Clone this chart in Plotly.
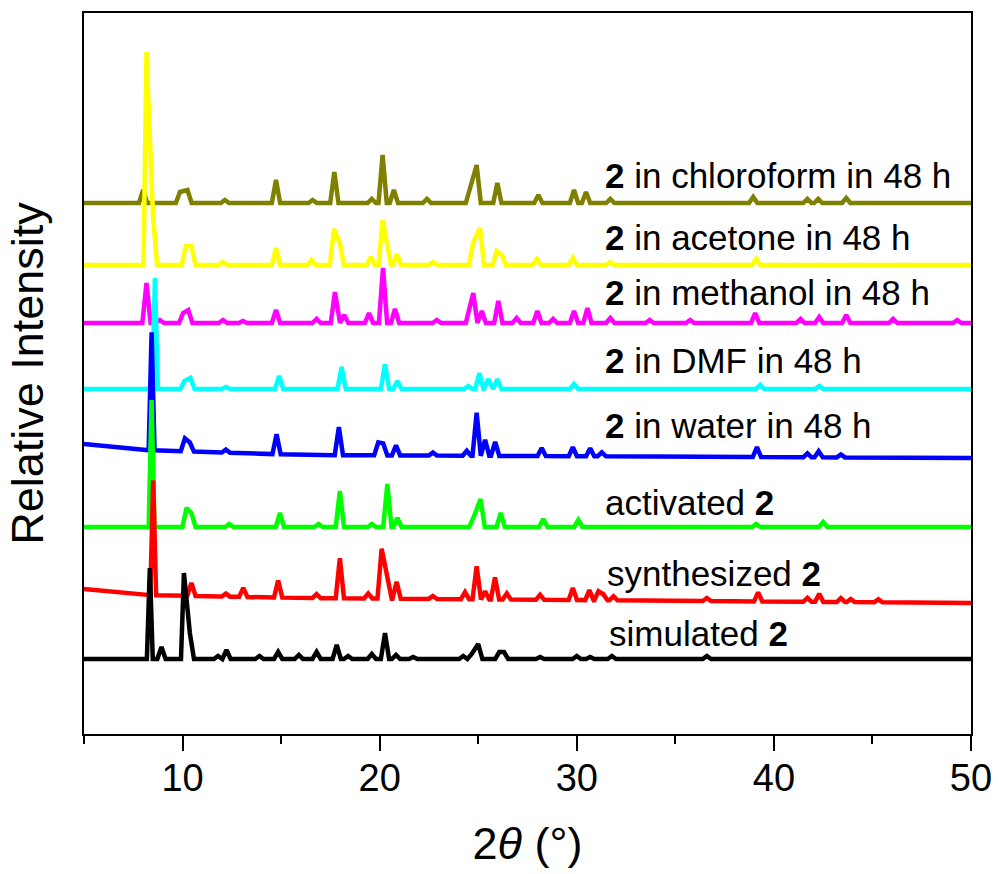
import numpy as np
import plotly.graph_objects as go

# ---------------- data ----------------
labels = [
    "<b>2</b> in chloroform in 48 h",
    "<b>2</b> in acetone in 48 h",
    "<b>2</b> in methanol in 48 h",
    "<b>2</b> in DMF in 48 h",
    "<b>2</b> in water in 48 h",
    "activated <b>2</b>",
    "synthesized <b>2</b>",
    "simulated <b>2</b>",
]
colors = ["#808000", "#FFFF00", "#FF00FF", "#00FFFF", "#0000FF", "#00FF00", "#FF0000", "#000000"]

# baselines (offset intensity, a.u.) at a few 2theta positions
chloro_base_x, chloro_base_y = [5, 50], [531, 531]
acetone_base_x, acetone_base_y = [5, 50], [469, 469]
methanol_base_x, methanol_base_y = [5, 50], [411, 411]
dmf_base_x, dmf_base_y = [5, 50], [345, 345]
water_base_x, water_base_y = [5, 6.5, 8, 16, 50], [290, 286, 284, 279, 276]
activated_base_x, activated_base_y = [5, 50], [207, 207]
synth_base_x, synth_base_y = [5, 8, 16, 50], [145, 139, 136, 131]
sim_base_x, sim_base_y = [5, 50], [75, 75]

# peak positions (2theta, deg) and heights above baseline (a.u.)
chloro_pos = [8.0, 9.87, 10.25, 12.15, 14.74, 16.6, 17.7, 19.6, 20.15, 20.72, 22.4, 24.58, 24.92,
              25.97, 28.05, 29.86, 30.47, 31.7, 38.95, 41.7, 42.25, 43.67]
chloro_h = [13, 11, 13, 3, 23, 3, 31, 4, 48, 13, 4, 16, 38, 20, 8, 13, 11, 4, 6, 4, 4, 5]

acetone_pos = [8.17, 8.5, 10.17, 10.45, 12.05, 14.74, 16.55, 17.68, 17.98, 19.55, 20.15, 20.37, 20.88,
               22.7, 24.74, 25.09, 25.94, 26.2, 27.97, 29.8, 31.7, 39.1]
acetone_h = [213, 50, 19, 19, 3, 17, 5, 36, 22, 8, 45, 24, 11, 3, 22, 37, 14, 10, 6, 7, 3, 6]

methanol_pos = [8.17, 8.85, 10.03, 10.29, 12.05, 13.06, 14.74, 16.8, 17.73, 18.2, 19.46, 20.17, 20.78,
                22.9, 24.58, 24.75, 25.18, 26.02, 26.95, 28.0, 28.8, 29.86, 30.54, 31.7, 33.7, 35.75,
                39.05, 41.35, 42.3, 43.67, 46.05, 49.3]
methanol_h = [40, 3, 10, 13, 3, 2, 13, 4, 31, 8, 10, 55, 14, 3, 15, 30, 12, 22, 5, 12, 4, 12, 15, 5, 3, 3,
              10, 4, 6, 8, 4, 3]

dmf_pos = [8.6, 10.1, 10.4, 12.2, 14.9, 18.07, 20.27, 20.9, 24.5, 25.06, 25.5, 25.97, 29.86, 39.3, 42.3]
dmf_h = [111, 8, 11, 2, 13, 22, 25, 8, 3, 16, 10, 10, 5, 4, 3]

water_pos = [8.43, 10.12, 10.37, 12.2, 14.77, 17.93, 19.93, 20.18, 20.83, 22.7, 24.42, 24.92, 25.35,
             25.86, 28.22, 29.8, 30.68, 31.27, 39.14, 41.7, 42.27, 43.4]
water_h = [118, 13, 9, 3, 20, 28, 13, 12, 10, 3, 5, 43, 16, 14, 8, 9, 8, 4, 10, 4, 6, 3]

activated_pos = [8.43, 10.2, 10.45, 12.37, 14.94, 16.9, 17.98, 19.6, 20.39, 20.9, 24.75, 25.12, 26.14,
                 28.3, 30.08, 39.1, 42.5]
activated_h = [127, 19, 14, 3, 14, 3, 36, 3, 43, 9, 9, 28, 14, 8, 7, 3, 5]

synth_pos = [8.51, 10.45, 12.2, 13.08, 14.85, 16.8, 17.98, 19.42, 20.1, 20.4, 20.86, 22.7, 24.33, 24.92,
             25.35, 25.85, 26.45, 28.14, 29.8, 30.64, 31.1, 31.35, 31.86, 36.6, 39.2, 41.7, 42.3, 43.4,
             43.9, 45.3]
synth_h = [115, 13, 3, 9, 17, 4, 40, 5, 50, 19, 17, 3, 7, 33, 8, 22, 6, 5, 12, 10, 9, 6, 4, 3, 9, 4, 8,
           4, 3, 3]

sim_pos = [8.34, 8.93, 10.07, 10.37, 11.8, 12.23, 13.9, 14.85, 15.9, 16.8, 17.82, 18.4, 19.6, 20.27,
           20.83, 21.7, 24.24, 24.67, 25.0, 26.07, 26.31, 28.14, 30.0, 30.68, 31.78, 36.6]
sim_h = [91, 12, 86, 26, 3, 9, 3, 7, 4, 7, 14, 3, 5, 26, 4, 2, 3, 5, 15, 7, 7, 2, 3, 2, 3, 3]

series = [
    (chloro_pos, chloro_h, chloro_base_x, chloro_base_y),
    (acetone_pos, acetone_h, acetone_base_x, acetone_base_y),
    (methanol_pos, methanol_h, methanol_base_x, methanol_base_y),
    (dmf_pos, dmf_h, dmf_base_x, dmf_base_y),
    (water_pos, water_h, water_base_x, water_base_y),
    (activated_pos, activated_h, activated_base_x, activated_base_y),
    (synth_pos, synth_h, synth_base_x, synth_base_y),
    (sim_pos, sim_h, sim_base_x, sim_base_y),
]

x_ticks = [10, 20, 30, 40, 50]


def half_width(hh):
    return 0.15 if hh > 60 else 0.21


def vertices(pos, h, bx, by):
    base = lambda x: float(np.interp(x, bx, by))
    xs, ys = [5.0], [base(5.0)]
    order = np.argsort(pos)
    pos = [pos[i] for i in order]
    h = [h[i] for i in order]
    for i, (p, hh) in enumerate(zip(pos, h)):
        w = half_width(hh)
        left = p - w
        prev_right = pos[i - 1] + half_width(h[i - 1]) if i > 0 else 5.0
        if left > xs[-1] and left > prev_right:
            xs.append(left); ys.append(base(left))
        xs.append(p); ys.append(base(p) + hh)
        right = p + w
        nxt_left = pos[i + 1] - half_width(h[i + 1]) if i + 1 < len(pos) else 99
        if nxt_left > right:
            xs.append(right); ys.append(base(right))
    xs.append(50.0); ys.append(base(50.0))
    return xs, ys


fig = go.Figure()
for (pos, h, bx, by), col, lab in zip(series, colors, labels):
    xs, ys = vertices(pos, h, bx, by)
    fig.add_trace(go.Scatter(x=xs, y=ys, mode="lines",
                             line=dict(color=col, width=4.5),
                             name=lab, showlegend=False, hoverinfo="skip"))

# label placement (layout)
label_x = [31.33, 31.33, 31.33, 31.33, 31.33, 31.33, 31.43, 31.53]
label_y = [559, 497, 442, 374, 309, 232, 161, 101]
for lab, lx, ly in zip(labels, label_x, label_y):
    fig.add_annotation(x=lx, y=ly, text=lab, showarrow=False, xanchor="left", yanchor="middle",
                       font=dict(size=35, color="black", family="Arial, Liberation Sans"))

fig.update_layout(
    width=999, height=874,
    margin=dict(l=84, r=28, t=13, b=140, autoexpand=False),
    plot_bgcolor="white", paper_bgcolor="white",
    font=dict(family="Arial, Liberation Sans", color="black"),
)
fig.update_xaxes(
    range=[5, 50], tickvals=x_ticks, ticks="outside", ticklen=15, tickwidth=2, tickcolor="black",
    minor=dict(dtick=5, tick0=5, ticks="outside", ticklen=8, tickwidth=2, tickcolor="black"),
    showline=True, linewidth=2, linecolor="black", mirror=True, showgrid=False, zeroline=False,
    automargin=False, ticklabelstandoff=-6,
    tickfont=dict(size=38), title=dict(text="2<i>θ</i> (°)", font=dict(size=45), standoff=30),
)
fig.update_yaxes(
    range=[0, 721], showticklabels=False, ticks="", showline=True, linewidth=2, linecolor="black",
    mirror=True, showgrid=False, zeroline=False, automargin=False,
    title=dict(text="Relative Intensity", font=dict(size=45), standoff=24),
)

fig.write_html("out.html")
